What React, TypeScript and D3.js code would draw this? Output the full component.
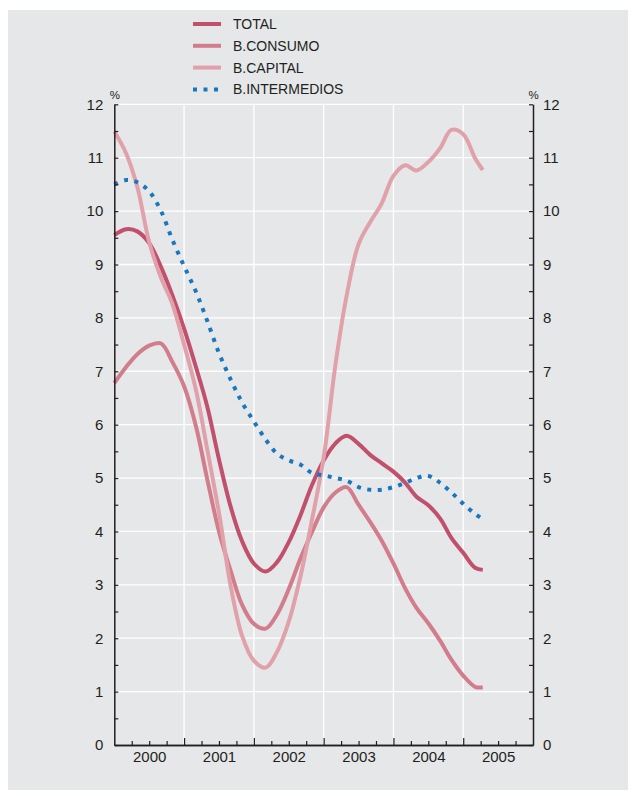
import React, { useEffect, useRef } from 'react';
import * as d3 from 'd3';

// decimal years, roughly every two months
const years = [
  2000.0, 2000.17, 2000.33, 2000.5, 2000.67, 2000.83,
  2001.0, 2001.17, 2001.33, 2001.5, 2001.67, 2001.83,
  2002.0, 2002.17, 2002.33, 2002.5, 2002.67, 2002.83,
  2003.0, 2003.17, 2003.33, 2003.5, 2003.67, 2003.83,
  2004.0, 2004.17, 2004.33, 2004.5, 2004.67, 2004.83,
  2005.0, 2005.17, 2005.28,
];

const total = [
  9.55, 9.66, 9.62, 9.4, 8.95, 8.43,
  7.8, 7.08, 6.35, 5.35, 4.45, 3.82,
  3.4, 3.25, 3.42, 3.8, 4.31, 4.86,
  5.33, 5.65, 5.79, 5.64, 5.43, 5.28,
  5.12, 4.91, 4.65, 4.49, 4.24, 3.88,
  3.6, 3.32, 3.28,
];

const consumo = [
  6.78, 7.08, 7.32, 7.48, 7.52, 7.18,
  6.72, 5.97, 4.99, 4.0, 3.25, 2.63,
  2.27, 2.18, 2.44, 2.92, 3.5, 3.98,
  4.45, 4.73, 4.83, 4.5, 4.17, 3.83,
  3.4, 2.93, 2.57, 2.28, 1.95, 1.6,
  1.3, 1.09, 1.08,
];

const capital = [
  11.49, 11.08, 10.45, 9.42, 8.75, 8.27,
  7.5, 6.65, 5.55, 4.35, 2.96, 2.05,
  1.58, 1.45, 1.74, 2.31, 3.17, 4.2,
  5.38, 7.13, 8.42, 9.38, 9.8, 10.14,
  10.66, 10.86, 10.76, 10.92, 11.18, 11.52,
  11.44, 10.99, 10.77,
];

const intermedios = [
  10.5, 10.58, 10.54, 10.37, 10.0, 9.47,
  8.97, 8.49, 7.95, 7.34, 6.84, 6.42,
  6.06, 5.72, 5.46, 5.33, 5.25, 5.1,
  5.05, 5.0, 4.95, 4.83, 4.78, 4.78,
  4.83, 4.91, 5.0, 5.04, 4.91, 4.73,
  4.52, 4.33, 4.23,
];

const yearLabels = [2000, 2001, 2002, 2003, 2004, 2005];
const yValues = [0, 1, 2, 3, 4, 5, 6, 7, 8, 9, 10, 11, 12];

const series = [
  { name: 'TOTAL', values: total, color: '#c1506d', dotted: false },
  { name: 'B.CONSUMO', values: consumo, color: '#d27d8b', dotted: false },
  { name: 'B.CAPITAL', values: capital, color: '#e0a1aa', dotted: false },
  { name: 'B.INTERMEDIOS', values: intermedios, color: '#1a76bd', dotted: true },
];

const FONT = '"Liberation Sans", Arial, Helvetica, sans-serif';
const INK = '#231f20';

const App: React.FC = () => {
  const ref = useRef<SVGSVGElement>(null);
  const W = 632;
  const H = 796;
  const margin = { top: 104.3, right: 99, bottom: 51, left: 114.3 };
  const width = W - margin.left - margin.right;
  const height = H - margin.top - margin.bottom;

  useEffect(() => {
    if (!ref.current) return;
    const root = d3.select(ref.current);
    root.selectAll('*').remove();

    root
      .append('rect')
      .attr('x', 8)
      .attr('y', 10)
      .attr('width', 620)
      .attr('height', 780)
      .attr('fill', '#e6e7e9');

    const svg = root
      .append('g')
      .attr('transform', `translate(${margin.left},${margin.top})`);

    const x = d3.scaleLinear().domain([2000, 2006]).range([0, width]);
    const y = d3.scaleLinear().domain([0, 12]).range([height, 0]);

    // grid
    svg
      .append('g')
      .selectAll('line')
      .data(yValues.slice(1))
      .enter()
      .append('line')
      .attr('x1', 0)
      .attr('x2', width)
      .attr('y1', (d) => y(d))
      .attr('y2', (d) => y(d))
      .attr('stroke', '#fff')
      .attr('stroke-width', 1.3);

    svg
      .append('g')
      .selectAll('line')
      .data(yearLabels.slice(1))
      .enter()
      .append('line')
      .attr('x1', (d) => x(d))
      .attr('x2', (d) => x(d))
      .attr('y1', 0)
      .attr('y2', height)
      .attr('stroke', '#fff')
      .attr('stroke-width', 1.3);

    // series
    const line = d3
      .line<number>()
      .x((_, i) => x(years[i]))
      .y((d) => y(d))
      .curve(d3.curveCatmullRom.alpha(0.5));

    series.forEach((s) => {
      svg
        .append('path')
        .datum(s.values)
        .attr('fill', 'none')
        .attr('stroke', s.color)
        .attr('stroke-width', 4)
        .attr('stroke-dasharray', s.dotted ? '4,6.5' : null)
        .attr('d', line);
    });

    const styleAxis = (g: d3.Selection<SVGGElement, unknown, null, undefined>) => {
      g.selectAll('.domain').attr('stroke', INK).attr('stroke-width', 1.5);
      g.selectAll('.tick line').attr('stroke', INK).attr('stroke-width', 1.2);
      g.selectAll('text')
        .attr('fill', INK)
        .style('font-family', FONT)
        .style('font-size', '15px');
    };

    const halfTicks = d3.range(0, 12.01, 0.5);
    const fmt = (d: d3.NumberValue) => (Number.isInteger(+d) ? String(d) : '');

    svg
      .append('g')
      .call(
        d3.axisLeft(y).tickValues(halfTicks).tickSize(-4).tickSizeOuter(0).tickPadding(11).tickFormat(fmt)
      )
      .call(styleAxis);

    svg
      .append('g')
      .attr('transform', `translate(${width},0)`)
      .call(
        d3.axisRight(y).tickValues(halfTicks).tickSize(-4).tickSizeOuter(0).tickPadding(10).tickFormat(fmt)
      )
      .call(styleAxis);

    // quarter ticks
    const quarters = d3.range(2000.25, 2006, 0.25).filter((d) => !Number.isInteger(d));
    svg
      .append('g')
      .attr('transform', `translate(0,${height})`)
      .call(d3.axisBottom(x).tickValues(quarters).tickSize(-4).tickSizeOuter(0).tickFormat(() => ''))
      .call(styleAxis);

    svg
      .append('g')
      .attr('transform', `translate(0,${height})`)
      .call(
        d3
          .axisBottom(x)
          .tickValues(yearLabels.slice(1))
          .tickSize(-7)
          .tickSizeOuter(0)
          .tickFormat(() => '')
      )
      .call(styleAxis);

    svg
      .append('g')
      .attr('transform', `translate(0,${height})`)
      .call(
        d3
          .axisBottom(x)
          .tickValues(yearLabels.map((d) => d + 0.5))
          .tickSize(0)
          .tickPadding(6)
          .tickFormat((d) => String(Math.floor(+d)))
      )
      .call(styleAxis)
      .call((g) => g.select('.domain').remove());

    // % units
    [0, width].forEach((px) => {
      svg
        .append('text')
        .attr('x', px + 0.5)
        .attr('y', -5.5)
        .attr('text-anchor', 'middle')
        .attr('fill', INK)
        .style('font-family', FONT)
        .style('font-size', '11.5px')
        .text('%');
    });

    // legend
    const legend = root.append('g').attr('transform', 'translate(193,24)');
    series.forEach((s, i) => {
      const row = legend.append('g').attr('transform', `translate(0,${i * 21.8})`);
      row
        .append('line')
        .attr('x1', 0)
        .attr('x2', 28)
        .attr('stroke', s.color)
        .attr('stroke-width', 4)
        .attr('stroke-dasharray', s.dotted ? '4,6.5' : null);
      row
        .append('text')
        .attr('x', 40)
        .attr('dy', '0.36em')
        .attr('fill', INK)
        .style('font-family', FONT)
        .style('font-size', '14px')
        .text(s.name);
    });
  }, []);

  return (
    <svg
      ref={ref}
      width={W}
      height={H}
      style={{ position: 'absolute', left: 0, top: 0 }}
    />
  );
};

export default App;
